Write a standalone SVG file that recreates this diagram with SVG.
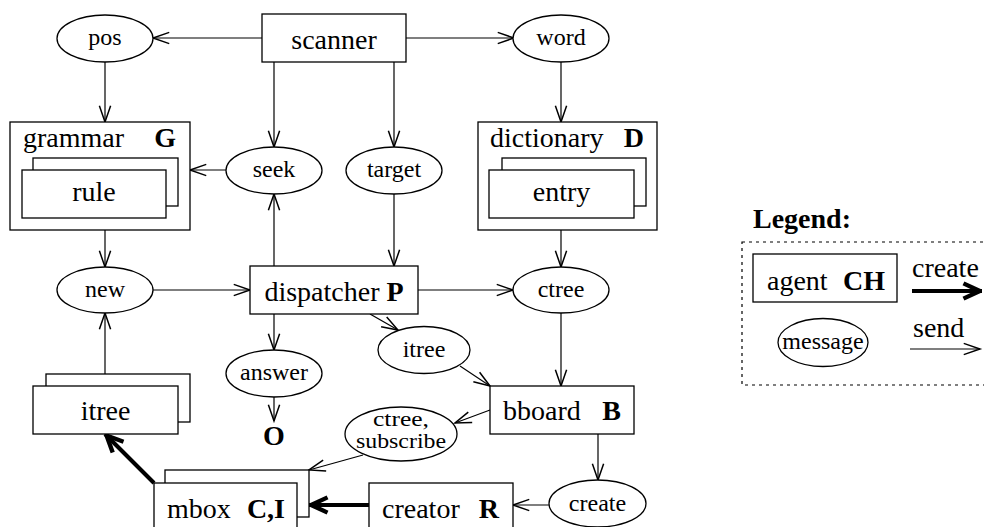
<svg xmlns="http://www.w3.org/2000/svg" width="984" height="527" viewBox="0 0 984 527">
  <style>
    .box { fill: #fff; stroke: #000; stroke-width: 1.3; }
    .msg { fill: #fff; stroke: #000; stroke-width: 1.3; }
    .lbl { font-family: "Liberation Serif", "Times New Roman", serif; font-size: 28px; fill: #000; }
    .mlbl { font-family: "Liberation Serif", "Times New Roman", serif; font-size: 24px; fill: #000; text-anchor: middle; }
    .small { font-size: 20px; }
    .b { font-weight: bold; }
    .send { fill: none; stroke: #000; stroke-width: 1.2; marker-end: url(#open); }
    .make { fill: none; stroke: #000; stroke-width: 4; marker-end: url(#thick); }
  </style>
  <defs>
    <marker id="open" markerUnits="userSpaceOnUse" markerWidth="20" markerHeight="20" viewBox="-15 -8 16 16" refX="0" refY="0" orient="auto" overflow="visible">
      <path d="M-13,-4.5 L0,0 L-13,4.5" fill="none" stroke="#000" stroke-width="1.2"/>
    </marker>
    <marker id="thick" markerUnits="userSpaceOnUse" markerWidth="24" markerHeight="24" viewBox="-20 -10 22 20" refX="0" refY="0" orient="auto" overflow="visible">
      <path d="M-17,-7 L-2,0 L-17,7" fill="none" stroke="#000" stroke-width="4" stroke-linejoin="round"/>
    </marker>
  </defs>

  <!-- connectors -->
  <g id="connectors">
    <line class="send" x1="262" y1="38" x2="153" y2="38"/>
    <line class="send" x1="406" y1="38" x2="514" y2="38"/>
    <line class="send" x1="105" y1="62" x2="105" y2="122"/>
    <line class="send" x1="561" y1="62" x2="561" y2="122"/>
    <line class="send" x1="274" y1="62" x2="274" y2="147"/>
    <line class="send" x1="394" y1="62" x2="394" y2="147"/>
    <line class="send" x1="226" y1="170" x2="190" y2="170"/>
    <line class="send" x1="274" y1="266" x2="274" y2="194"/>
    <line class="send" x1="394" y1="194" x2="394" y2="266"/>
    <line class="send" x1="105" y1="218" x2="105" y2="267"/>
    <line class="send" x1="561" y1="218" x2="561" y2="267"/>
    <line class="send" x1="153" y1="290" x2="250" y2="290"/>
    <line class="send" x1="418" y1="290" x2="513" y2="290"/>
    <line class="send" x1="274" y1="314" x2="274" y2="350"/>
    <line class="send" x1="274" y1="397" x2="274" y2="421"/>
    <line class="send" x1="370" y1="314" x2="398" y2="330"/>
    <line class="send" x1="460" y1="366" x2="490" y2="386"/>
    <line class="send" x1="561" y1="313" x2="561" y2="386"/>
    <line class="send" x1="490" y1="410" x2="455" y2="423"/>
    <line class="send" x1="363" y1="455" x2="309" y2="470"/>
    <line class="send" x1="598" y1="434" x2="598" y2="480"/>
    <line class="send" x1="549" y1="505" x2="513" y2="505"/>
    <line class="send" x1="105" y1="374" x2="105" y2="313"/>
    <line class="make" x1="369" y1="505" x2="309" y2="505"/>
    <line class="make" x1="154" y1="483" x2="105" y2="434"/>
  </g>

  <!-- agents -->
  <g id="scanner">
    <rect class="box" x="262" y="14" width="144" height="48"/>
    <text class="lbl" x="334" y="49" text-anchor="middle">scanner</text>
  </g>
  <g id="grammar">
    <rect class="box" x="10" y="122" width="180" height="108"/>
    <text class="lbl" x="23" y="147">grammar</text>
    <text class="lbl b" x="176" y="147" text-anchor="end">G</text>
    <rect class="box" x="33" y="158" width="145" height="48"/>
    <rect class="box" x="22" y="170" width="144" height="48"/>
    <text class="lbl" x="94" y="201" text-anchor="middle">rule</text>
  </g>
  <g id="dictionary">
    <rect class="box" x="478" y="122" width="179" height="108"/>
    <text class="lbl" x="490" y="147">dictionary</text>
    <text class="lbl b" x="644" y="147" text-anchor="end">D</text>
    <rect class="box" x="502" y="158" width="144" height="48"/>
    <rect class="box" x="489" y="170" width="145" height="48"/>
    <text class="lbl" x="561.5" y="201" text-anchor="middle">entry</text>
  </g>
  <g id="dispatcher">
    <rect class="box" x="250" y="266" width="168" height="48"/>
    <text class="lbl" x="334" y="301" text-anchor="middle">dispatcher <tspan class="b">P</tspan></text>
  </g>
  <g id="output">
    <text class="lbl b" x="274" y="445" text-anchor="middle">O</text>
  </g>
  <g id="bboard">
    <rect class="box" x="490" y="386" width="144" height="48"/>
    <text class="lbl" x="503" y="420">bboard</text>
    <text class="lbl b" x="621" y="420" text-anchor="end">B</text>
  </g>
  <g id="itree-stack">
    <rect class="box" x="46" y="374" width="144" height="48"/>
    <rect class="box" x="33" y="386" width="145" height="48"/>
    <text class="lbl" x="105.5" y="420" text-anchor="middle">itree</text>
  </g>
  <g id="mbox">
    <rect class="box" x="165" y="470" width="144" height="47"/>
    <rect class="box" x="154" y="483" width="143" height="48"/>
    <text class="lbl" x="167" y="518">mbox</text>
    <text class="lbl b" x="285" y="518" text-anchor="end">C,I</text>
  </g>
  <g id="creator">
    <rect class="box" x="369" y="483" width="144" height="48"/>
    <text class="lbl" x="382" y="518">creator</text>
    <text class="lbl b" x="499" y="518" text-anchor="end">R</text>
  </g>

  <!-- messages -->
  <g id="msg-pos">
    <ellipse class="msg" cx="105" cy="38.5" rx="48" ry="23.5"/>
    <text class="mlbl" x="105" y="45">pos</text>
  </g>
  <g id="msg-word">
    <ellipse class="msg" cx="561" cy="38.5" rx="48" ry="23.5"/>
    <text class="mlbl" x="561" y="45">word</text>
  </g>
  <g id="msg-seek">
    <ellipse class="msg" cx="274" cy="170.5" rx="48" ry="23.5"/>
    <text class="mlbl" x="274" y="177">seek</text>
  </g>
  <g id="msg-target">
    <ellipse class="msg" cx="394" cy="170.5" rx="48" ry="23.5"/>
    <text class="mlbl" x="394" y="177">target</text>
  </g>
  <g id="msg-new">
    <ellipse class="msg" cx="105" cy="290" rx="48" ry="23"/>
    <text class="mlbl" x="105" y="297">new</text>
  </g>
  <g id="msg-ctree">
    <ellipse class="msg" cx="561" cy="290" rx="48" ry="23"/>
    <text class="mlbl" x="561" y="297">ctree</text>
  </g>
  <g id="msg-itree">
    <ellipse class="msg" cx="424" cy="350" rx="46" ry="23.5"/>
    <text class="mlbl" x="424" y="357">itree</text>
  </g>
  <g id="msg-answer">
    <ellipse class="msg" cx="274" cy="373.5" rx="48" ry="23.5"/>
    <text class="mlbl" x="274" y="380">answer</text>
  </g>
  <g id="msg-ctree-subscribe">
    <ellipse class="msg" cx="401" cy="434" rx="56" ry="27"/>
    <text class="mlbl small" x="401" y="426" textLength="56" lengthAdjust="spacingAndGlyphs">ctree,</text>
    <text class="mlbl small" x="401" y="448" textLength="90" lengthAdjust="spacingAndGlyphs">subscribe</text>
  </g>
  <g id="msg-create">
    <ellipse class="msg" cx="597.5" cy="503.5" rx="48.5" ry="23.5"/>
    <text class="mlbl" x="597.5" y="511">create</text>
  </g>

  <!-- legend -->
  <g id="legend">
    <text class="lbl b" x="753" y="228">Legend:</text>
    <rect x="742" y="242" width="250" height="143" fill="none" stroke="#000" stroke-width="1.2" stroke-dasharray="3 4"/>
    <rect class="box" x="753" y="254" width="144" height="48"/>
    <text class="lbl" x="767" y="290">agent</text>
    <text class="lbl b" x="885" y="290" text-anchor="end">CH</text>
    <text class="lbl" x="912" y="277">create</text>
    <line class="make" x1="912" y1="291" x2="982" y2="291"/>
    <ellipse class="msg" cx="823" cy="342.5" rx="45" ry="24"/>
    <text class="mlbl" x="823" y="349">message</text>
    <text class="lbl" x="913" y="337">send</text>
    <line class="send" x1="910" y1="349" x2="980" y2="349"/>
  </g>
</svg>
